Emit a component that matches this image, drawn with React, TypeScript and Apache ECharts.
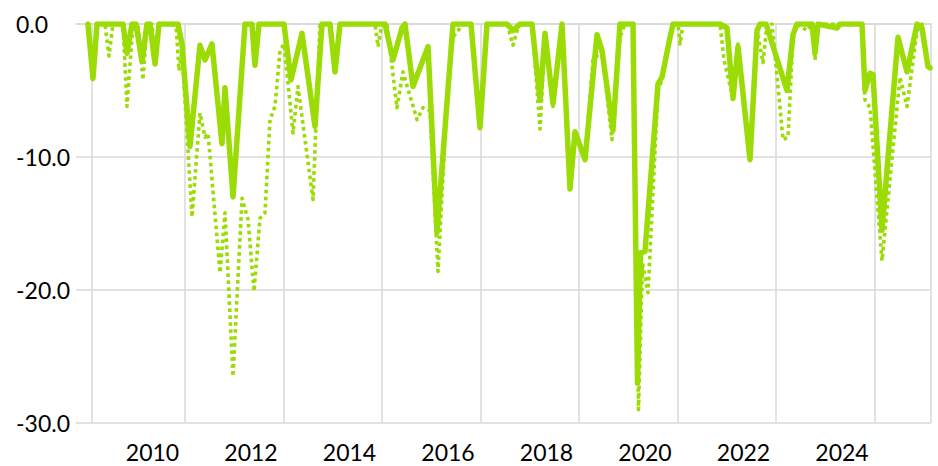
import React, { useEffect, useRef } from "react";
import * as echarts from "echarts";

// x positions are fractional years along the time axis
const yearLabels = [2010, 2012, 2014, 2016, 2018, 2020, 2022, 2024];
const gridYears = [2008.765, 2010.66, 2012.66, 2014.66, 2016.66, 2018.66, 2020.66, 2022.66, 2024.66, 2025.807];
const yTicks = [0, -10, -20, -30];

const solidDates = [
  2008.69, 2008.792, 2008.873, 2009.401, 2009.482, 2009.584, 2009.665, 2009.787, 2009.888, 2009.949,
  2010.051, 2010.132, 2010.518, 2010.599, 2010.761, 2010.964, 2011.066, 2011.208, 2011.411, 2011.472,
  2011.635, 2011.878, 2012.02, 2012.081, 2012.162, 2012.67, 2012.812, 2013.036, 2013.299, 2013.442,
  2013.604, 2013.706, 2013.807, 2014.721, 2014.883, 2015.066, 2015.127, 2015.289, 2015.594, 2015.777,
  2016.102, 2016.467, 2016.65, 2016.792, 2017.198, 2017.32, 2017.462, 2017.706, 2017.868, 2017.97,
  2018.132, 2018.315, 2018.477, 2018.579, 2018.782, 2019.025, 2019.127, 2019.35, 2019.492, 2019.756,
  2019.848, 2019.909, 2020.0, 2020.264, 2020.345, 2020.508, 2020.569, 2021.523, 2021.665, 2021.787,
  2021.888, 2022.132, 2022.274, 2022.335, 2022.457, 2022.883, 2023.005, 2023.086, 2023.391, 2023.452,
  2023.513, 2023.898, 2023.959, 2024.406, 2024.467, 2024.569, 2024.629, 2024.812, 2025.137, 2025.32,
  2025.523, 2025.624, 2025.746, 2025.787,
];
const solidValues = [
  0, -4.1, 0, 0, -2.2, 0, 0, -2.8, 0, 0,
  -3.0, 0, 0, -1.5, -9.2, -1.6, -2.7, -1.5, -9.0, -4.8,
  -13.0, 0, 0, -3.1, 0, 0, -4.2, -0.7, -7.7, 0,
  0, -3.6, 0, 0, -2.7, -0.3, 0, -4.7, -1.7, -15.7,
  0, 0, -7.8, 0, 0, -0.5, 0, 0, -5.7, -0.7,
  -6.0, 0, -12.4, -8.1, -10.2, -0.8, -2.0, -8.0, 0, 0,
  -27.0, -17.2, -17.1, -4.5, -4.0, -1.0, 0, 0, -0.3, -5.6,
  -1.7, -10.2, -0.5, 0, 0, -5.0, -0.8, 0, 0, -2.2,
  0, -0.3, 0, 0, -5.0, -3.7, -3.8, -15.5, -1.0, -3.6,
  0, -0.3, -3.2, -3.3,
];

const dottedDates = [
  2008.69, 2008.792, 2008.873, 2009.035, 2009.116, 2009.198, 2009.401, 2009.482, 2009.604, 2009.706,
  2009.807, 2009.888, 2009.99, 2010.051, 2010.132, 2010.478, 2010.538, 2010.599, 2010.802, 2010.964,
  2011.066, 2011.127, 2011.371, 2011.472, 2011.635, 2011.818, 2011.939, 2012.061, 2012.183, 2012.284,
  2012.386, 2012.487, 2012.589, 2012.67, 2012.853, 2012.954, 2013.259, 2013.401, 2013.604, 2013.706,
  2013.807, 2014.518, 2014.579, 2014.66, 2014.761, 2014.964, 2015.086, 2015.371, 2015.492, 2015.635,
  2015.797, 2015.98, 2016.102, 2016.305, 2016.467, 2016.65, 2016.792, 2017.198, 2017.32, 2017.442,
  2017.706, 2017.868, 2017.97, 2018.132, 2018.315, 2018.477, 2018.579, 2018.782, 2018.944, 2019.127,
  2019.33, 2019.492, 2019.594, 2019.756, 2019.868, 2019.949, 2020.061, 2020.264, 2020.345, 2020.508,
  2020.569, 2020.67, 2020.711, 2020.772, 2021.523, 2021.604, 2021.787, 2021.888, 2022.132, 2022.274,
  2022.396, 2022.477, 2022.579, 2022.802, 2022.904, 2023.005, 2023.086, 2023.289, 2023.391, 2023.452,
  2023.513, 2024.406, 2024.467, 2024.569, 2024.812, 2025.178, 2025.32, 2025.523, 2025.624, 2025.746,
  2025.787,
];
const dottedValues = [
  0, -4.1, 0, 0, -2.4, 0, 0, -6.2, 0, 0,
  -4.2, 0, 0, -3.0, 0, 0, -3.5, -2.0, -14.5, -6.7,
  -8.5, -8.2, -18.7, -14.2, -26.5, -13.1, -14.7, -20.1, -14.6, -14.2,
  -7.2, -6.2, -2.0, -1.5, -8.2, -4.7, -13.2, 0, 0, -3.6,
  0, 0, -1.7, 0, 0, -6.3, -3.6, -7.2, -6.3, -6.5,
  -18.6, -5.7, -1.0, 0, 0, -7.8, 0, 0, -1.6, 0,
  0, -7.9, -1.0, -6.2, 0, -12.4, -8.1, -10.2, -2.7, -2.0,
  -8.7, -1.0, 0, 0, -29.0, -18.0, -20.2, -5.0, -4.2, -1.0,
  0, 0, -1.5, 0, 0, -2.7, -5.6, -1.5, -10.2, -0.5,
  -2.9, 0, 0, -8.7, -8.5, -1.0, 0, -0.5, 0, -2.7,
  0, 0, -5.7, -6.3, -17.8, -4.0, -6.2, -0.5, 0, -3.2,
  -3.3,
];

const LIME = "#9BDB06";
const GRID = "#D9D9D9";
const FONT = "Lato, 'Liberation Sans', sans-serif";

export default function App() {
  const ref = useRef<HTMLDivElement>(null);
  useEffect(() => {
    if (!ref.current) return;
    const chart = echarts.init(ref.current, null, { renderer: "svg" });
    chart.setOption({
      animation: false,
      backgroundColor: "#ffffff",
      grid: { left: 76, right: 7, top: 24, bottom: 43, containLabel: false, outerBoundsMode: "none" },
      xAxis: {
        type: "value",
        min: 2008.447,
        max: 2025.807,
        axisLine: { show: true, lineStyle: { color: GRID, width: 1.5 } },
        axisTick: { show: false, customValues: gridYears },
        splitLine: { show: true, lineStyle: { color: GRID, width: 1.5 } },
        axisLabel: {
          customValues: yearLabels,
          formatter: (v: number) => String(Math.round(v)),
          color: "#000",
          fontSize: 23,
          fontFamily: FONT,
          margin: 17,
        },
      },
      yAxis: {
        type: "value",
        min: -30,
        max: 0,
        interval: 10,
        axisLine: { show: false },
        axisTick: { show: false },
        splitLine: { show: true, lineStyle: { color: GRID, width: 1.5 } },
        axisLabel: {
          customValues: yTicks,
          formatter: (v: number) => (v === 0 ? "0.0" : v.toFixed(1)),
          color: "#000",
          fontSize: 23,
          fontFamily: FONT,
          align: "left",
          margin: 60,
          padding: [4, 0, 0, 0],
        },
      },
      series: [
        {
          type: "line",
          data: dottedDates.map((d, i) => [d, dottedValues[i]]),
          showSymbol: false,
          lineStyle: { color: LIME, width: 3.6, type: [3.6, 3.4], cap: "butt", join: "round" },
          z: 2,
        },
        {
          type: "line",
          data: solidDates.map((d, i) => [d, solidValues[i]]),
          showSymbol: false,
          lineStyle: { color: LIME, width: 5.5, join: "round", cap: "round" },
          z: 3,
        },
      ],
    });
    return () => chart.dispose();
  }, []);
  return (
    <div
      ref={ref}
      style={{ position: "absolute", left: 0, top: 0, width: 938, height: 466 }}
    />
  );
}
